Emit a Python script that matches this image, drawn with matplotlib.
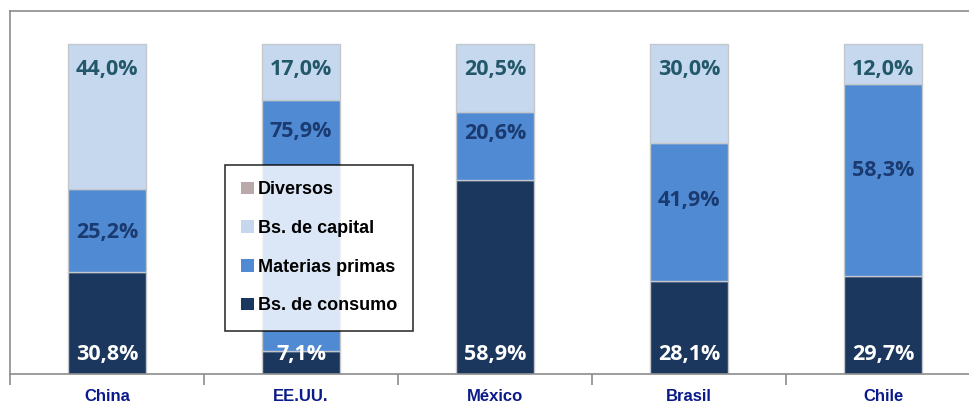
import numpy as np
import matplotlib
matplotlib.use("Agg")
import matplotlib.pyplot as plt
from matplotlib.patches import Patch


# data (shares in %)
paises = ["China", "EE.UU.", "México", "Brasil", "Chile"]
bs_consumo = [30.8, 7.1, 58.9, 28.1, 29.7]
materias_primas = [25.2, 75.9, 20.6, 41.9, 58.3]
bs_capital = [44.0, 17.0, 20.5, 30.0, 12.0]
diversos = [0.0, 0.0, 0.0, 0.0, 0.0]

# colours
c_consumo = "#1b375e"
c_materias = "#4f8ad3"
c_capital = "#c6d8ee"
c_diversos = "#b9a9aa"

fig = plt.figure(figsize=(9.7, 4.07), dpi=100)
ax = fig.add_axes([10 / 970, 33 / 407, 970 / 970, 363 / 407])

x = np.arange(len(paises))
w = 0.40
edge = dict(edgecolor="#c4c8cc", linewidth=1.0)

b1 = np.array(bs_consumo)
b2 = b1 + np.array(materias_primas)
b3 = b2 + np.array(bs_capital)

ax.bar(x, bs_consumo, w, color=c_consumo, **edge)
ax.bar(x, materias_primas, w, bottom=b1, color=c_materias, **edge)
ax.bar(x, bs_capital, w, bottom=b2, color=c_capital, **edge)
ax.bar(x, diversos, w, bottom=b3, color=c_diversos, linewidth=0)

# labels (placed roughly as in the original)
lbl = dict(ha="center", va="center", fontsize=15.5, fontweight="bold",
           family=["Open Sans", "DejaVu Sans"])
mp_label_y = [43, 73.6, 73, 52.7, 61.8]
for i in range(len(paises)):
    ax.text(x[i], 5.8, f"{bs_consumo[i]:.1f}%".replace(".", ","),
            color="white", **lbl)
    ax.text(x[i], mp_label_y[i], f"{materias_primas[i]:.1f}%".replace(".", ","),
            color="#1a3a70", **lbl)
    ax.text(x[i], 92.3, f"{bs_capital[i]:.1f}%".replace(".", ","),
            color="#22586a", **lbl)

ax.set_xlim(-0.5, len(paises) - 0.5)
ax.set_ylim(0, 110)
ax.set_yticks([])

ax.set_xticks(x)
ax.set_xticklabels(paises, color="#0a1a8a", fontsize=12, fontweight="bold",
                   family="Liberation Sans")
ax.tick_params(axis="x", which="major", length=0, pad=11)
ax.set_xticks(np.arange(-0.5, len(paises)), minor=True)
ax.tick_params(axis="x", which="minor", length=8, width=1.2, color="#8c8c8c")

for s in ax.spines.values():
    s.set_color("#8c8c8c")
    s.set_linewidth(1.2)

handles = [
    Patch(facecolor=c_diversos, label="Diversos"),
    Patch(facecolor=c_capital, label="Bs. de capital"),
    Patch(facecolor=c_materias, label="Materias primas"),
    Patch(facecolor=c_consumo, label="Bs. de consumo"),
]
leg = ax.legend(handles=handles, loc="upper left",
                bbox_to_anchor=((225 - 10) / 970, (374 - 165) / 363),
                bbox_transform=ax.transAxes,
                prop=dict(family="Liberation Sans", weight="bold", size=13),
                frameon=True, fancybox=False, edgecolor="black",
                handlelength=0.7, handleheight=0.7, handletextpad=0.2,
                labelspacing=1.2, borderpad=0.9, borderaxespad=0)
leg.get_frame().set_linewidth(1.2)

fig.savefig("out.png", dpi=100)
